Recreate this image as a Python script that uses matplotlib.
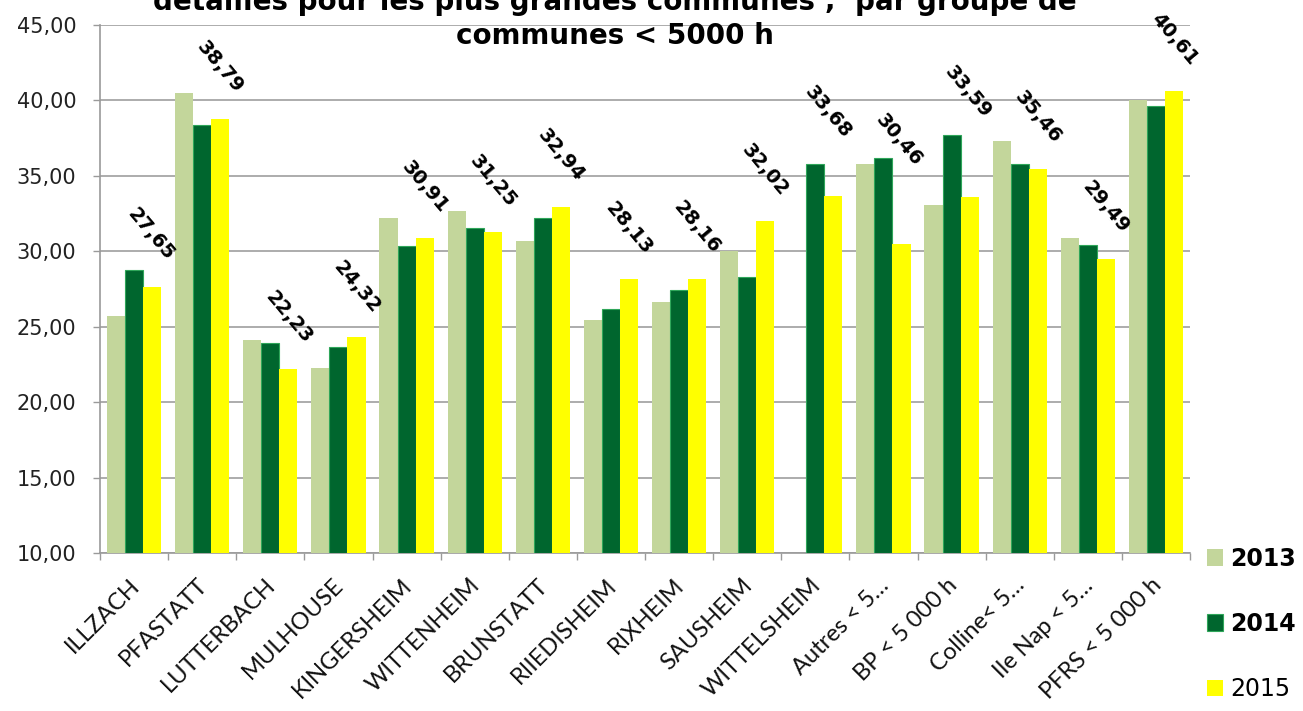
import matplotlib
matplotlib.use("Agg")
import matplotlib.pyplot as plt
import numpy as np
from matplotlib.transforms import offset_copy

categories = ["ILLZACH", "PFASTATT", "LUTTERBACH", "MULHOUSE", "KINGERSHEIM",
              "WITTENHEIM", "BRUNSTATT", "RIIEDISHEIM", "RIXHEIM", "SAUSHEIM",
              "WITTELSHEIM", "Autres < 5…", "BP < 5 000 h", "Colline< 5…",
              "Ile Nap < 5…", "PFRS < 5 000 h"]
v2013 = [25.70, 40.46, 24.15, 22.27, 32.21, 32.65, 30.71, 25.43, 26.62, 30.00,
         np.nan, 35.78, 33.07, 37.33, 30.86, 40.02]
v2014 = [28.74, 38.39, 23.89, 23.66, 30.33, 31.52, 32.19, 26.18, 27.46, 28.30,
         35.76, 36.18, 37.70, 35.76, 30.42, 39.60]
v2015 = [27.65, 38.79, 22.23, 24.32, 30.91, 31.25, 32.94, 28.13, 28.16, 32.02,
         33.68, 30.46, 33.59, 35.46, 29.49, 40.61]
series_names = ["2013", "2014", "2015"]
yticks = [10, 15, 20, 25, 30, 35, 40, 45]
title = "détaillés pour les plus grandes communes ;  par groupe de\ncommunes < 5000 h"

# label placement (style): offsets in points above the 2015 bar top
label_dx = [-1, 0, 0, 0, 0, 0, 0, 0, 0, 0, -4, -2, -1, 0, 0, 0]
label_dy = [37.5, 37.5, 37, 36, 36.5, 37, 37, 37, 37, 36.5, 60.5, 75, 75.5, 37, 37.5, 37.5]

c13, c14, c15 = "#C3D69B", "#00662E", "#FFFF00"

fig = plt.figure(figsize=(13.03, 7.11), dpi=100)
ax = fig.add_axes([100/1303, (711-553)/711, (1190-100)/1303, (553-25)/711])

x = np.arange(len(categories))
w = 0.265
b1 = ax.bar(x - w, np.array(v2013) - 10, w, bottom=10, color=c13, linewidth=0, label=series_names[0], zorder=3)
b2 = ax.bar(x, np.array(v2014) - 10, w, bottom=10, color=c14, edgecolor="#2FA65A", linewidth=0.8, label=series_names[1], zorder=3)
b3 = ax.bar(x + w, np.array(v2015) - 10, w, bottom=10, color=c15, linewidth=0, label=series_names[2], zorder=3)

for xi, v, dx, dy in zip(x, v2015, label_dx, label_dy):
    ax.annotate(f"{v:.2f}".replace(".", ","), (xi + w, v), xytext=(dx, dy),
                textcoords="offset points", ha="center", va="center",
                rotation=-50, fontsize=14, fontweight="bold",
                family="DejaVu Sans", zorder=5)

ax.set_xlim(-0.5, len(categories) - 0.5)
ax.set_ylim(10, 45)
ax.set_yticks(yticks)
ax.set_yticklabels([f"{t:.2f}".replace(".", ",") for t in yticks],
                   fontsize=15, family="DejaVu Sans", color="#222222")
ax.tick_params(axis="y", length=5, width=1, color="#9a9a9a", pad=12)
ax.yaxis.grid(True, color="#a6a6a6", linewidth=1.3, zorder=0)
ax.set_axisbelow(True)

ax.set_xticks(np.arange(-0.5, len(categories), 1.0), minor=False)
ax.set_xticklabels([])
ax.tick_params(axis="x", length=5, width=1, color="#9a9a9a")

trans = offset_copy(ax.get_xaxis_transform(), fig=fig, x=2, y=-29, units="dots")
for xi, lab in zip(x, categories):
    ax.text(xi, 0, lab, transform=trans, rotation=45, rotation_mode="anchor",
            ha="right", va="center", fontsize=17, family="Lato", color="#111111")

for s in ["top", "right"]:
    ax.spines[s].set_visible(False)
for s in ["left", "bottom"]:
    ax.spines[s].set_color("#9a9a9a")
    ax.spines[s].set_linewidth(1.2)

leg = ax.legend(handles=[b1, b2, b3], loc="upper left",
                bbox_to_anchor=(1190/1303, (711-530)/711), bbox_transform=fig.transFigure,
                frameon=False, fontsize=17, handlelength=0.7, handleheight=0.7,
                handletextpad=0.3, labelspacing=1.75, borderpad=0.2)
for t, wgt in zip(leg.get_texts(), ["bold", "bold", "normal"]):
    t.set_fontweight(wgt)
    t.set_family("DejaVu Sans")

fig.text(615/1303, 1 + 14/711, title, ha="center", va="top", fontsize=20,
         fontweight="bold", family="DejaVu Sans", linespacing=1.3)

fig.savefig("out.png", dpi=100)
